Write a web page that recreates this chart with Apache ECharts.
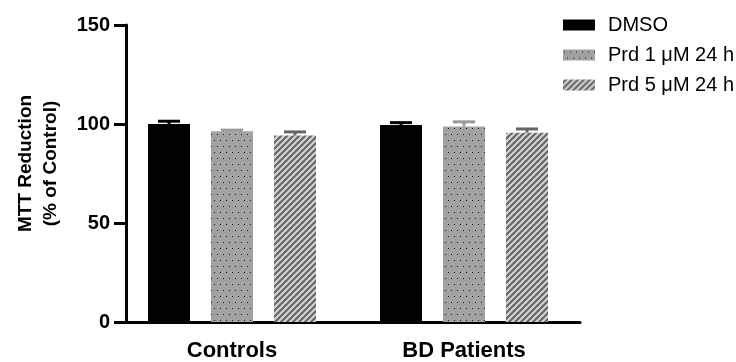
<!DOCTYPE html>
<html>
<head>
<meta charset="utf-8">
<script src="https://cdn.jsdelivr.net/npm/echarts@6/dist/echarts.min.js"></script>
<style>
  html, body { margin: 0; padding: 0; background: #fff; }
  #chart { width: 736px; height: 362px; }
</style>
</head>
<body>
<div id="chart"></div>
<script>
// Groups and treatments
const categories = ['Controls', 'BD Patients'];
const seriesNames = ['DMSO', 'Prd 1 \u03bcM 24 h', 'Prd 5 \u03bcM 24 h'];

// Mean MTT reduction (% of control) per group
const dmsoMean = [100, 99.5];
const prd1Mean = [96.3, 98.8];
const prd5Mean = [94.2, 95.6];

// Upper error (SEM)
const dmsoErr = [1.4, 1.2];
const prd1Err = [0.6, 2.3];
const prd5Err = [1.8, 1.9];

// Y axis ticks
const yTicks = [0, 50, 100, 150];

const FONT = '"Liberation Sans", Arial, Helvetica, sans-serif';

// Fill patterns
function dotPattern() {
  const c = document.createElement('canvas');
  c.width = 6; c.height = 12;
  const g = c.getContext('2d');
  g.fillStyle = '#a2a2a2';
  g.fillRect(0, 0, 6, 12);
  g.fillStyle = '#1a1a1a';
  g.fillRect(1, 2, 1, 1);
  g.fillRect(4, 8, 1, 1);
  return c;
}
function hatchPattern() {
  const s = 6;
  const c = document.createElement('canvas');
  c.width = s; c.height = s;
  const g = c.getContext('2d');
  g.fillStyle = '#666666';
  g.fillRect(0, 0, s, s);
  g.strokeStyle = '#d6d6d6';
  g.lineWidth = 2;
  g.beginPath();
  g.moveTo(-1, 1); g.lineTo(1, -1);
  g.moveTo(0, s); g.lineTo(s, 0);
  g.moveTo(s - 1, s + 1); g.lineTo(s + 1, s - 1);
  g.stroke();
  return c;
}

const fills = [
  '#000000',
  { image: dotPattern(), repeat: 'repeat' },
  { image: hatchPattern(), repeat: 'repeat' }
];
const errColors = ['#000000', '#9a9a9a', '#666666'];
const means = [dmsoMean, prd1Mean, prd5Mean];
const errs = [dmsoErr, prd1Err, prd5Err];

const BAR_W = 42;
const BAR_GAP = 21;

function errorSeries(k) {
  const offset = (k - 1) * (BAR_W + BAR_GAP);
  return {
    type: 'custom',
    z: 5,
    silent: true,
    data: categories.map((c, i) => [i, means[k][i], errs[k][i]]),
    renderItem: function (params, api) {
      const base = api.coord([api.value(0), api.value(1)]);
      const top = api.coord([api.value(0), api.value(1) + api.value(2)]);
      const x = base[0] + offset;
      const style = { stroke: errColors[k], lineWidth: 3 };
      return {
        type: 'group',
        children: [
          { type: 'line', shape: { x1: x, y1: base[1], x2: x, y2: top[1] }, style: style },
          { type: 'line', shape: { x1: x - 11, y1: top[1], x2: x + 11, y2: top[1] }, style: style }
        ]
      };
    }
  };
}

const barSeries = seriesNames.map((name, k) => ({
  name: name,
  type: 'bar',
  barWidth: BAR_W,
  barGap: (BAR_GAP / BAR_W * 100) + '%',
  itemStyle: { color: fills[k] },
  data: means[k]
}));

const chart = echarts.init(document.getElementById('chart'), null, { renderer: 'canvas' });
chart.setOption({
  animation: false,
  backgroundColor: '#ffffff',
  grid: { left: 116, right: 156, top: 25, bottom: 39, containLabel: false },
  legend: {
    orient: 'vertical',
    left: 558,
    top: 10,
    itemWidth: 32,
    itemHeight: 11,
    itemGap: 10,
    icon: 'rect',
    data: seriesNames,
    textStyle: { fontFamily: FONT, fontSize: 20, color: '#000', padding: [0, 0, 0, 8] }
  },
  xAxis: {
    type: 'category',
    data: categories,
    axisLine: { lineStyle: { color: '#000', width: 3 } },
    axisTick: { alignWithLabel: true, length: 11, lineStyle: { color: '#000', width: 3 } },
    axisLabel: { margin: 18, color: '#000', fontFamily: FONT, fontWeight: 'bold', fontSize: 22 }
  },
  yAxis: {
    type: 'value',
    min: yTicks[0],
    max: yTicks[yTicks.length - 1],
    interval: yTicks[1] - yTicks[0],
    offset: -10,
    splitLine: { show: false },
    axisLine: { show: true, lineStyle: { color: '#000', width: 3 } },
    axisTick: { show: true, length: 12, lineStyle: { color: '#000', width: 3 } },
    axisLabel: { margin: 16, color: '#000', fontFamily: FONT, fontWeight: 'bold', fontSize: 20 },
    name: 'MTT Reduction\n(% of Control)',
    nameLocation: 'middle',
    nameGap: 63,
    nameTextStyle: { color: '#000', fontFamily: FONT, fontWeight: 'bold', fontSize: 19, lineHeight: 25, padding: [0, 0, 0, 20] }
  },
  series: barSeries.concat([0, 1, 2].map(errorSeries))
});
</script>
</body>
</html>
